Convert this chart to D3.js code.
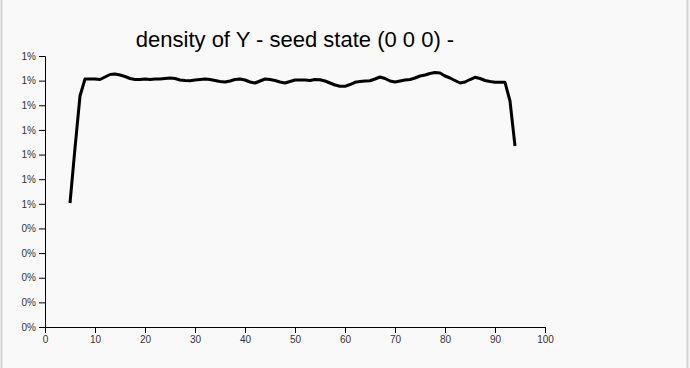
<!DOCTYPE html>
<html>
<head>
<meta charset="utf-8">
<script src="https://cdn.jsdelivr.net/npm/d3@7"></script>
<style>
  html, body { margin: 0; padding: 0; background: #f9f9f9; }
  svg { display: block; }
</style>
</head>
<body>
<svg id="chart"></svg>
<script>
// Title and axis setup
const title = "density of Y - seed state (0 0 0) -";
const xDomain = [0, 100];
const yDomain = [0, 0.011];

// Y values (1..100 grid), x from 5 to 94
const xs = d3.range(5, 95);
const density = [
  0.005033, 0.007266, 0.009376, 0.010066, 0.010066, 0.010066, 0.010046, 0.010148, 0.010249, 0.010269,
  0.010229, 0.010168, 0.010087, 0.010046, 0.010046, 0.010066, 0.010046, 0.010066, 0.010066, 0.010087,
  0.010107, 0.010087, 0.010026, 0.010006, 0.009997, 0.010026, 0.010046, 0.010066, 0.010046, 0.010006,
  0.009965, 0.009945, 0.009985, 0.010046, 0.010066, 0.010026, 0.009945, 0.009904, 0.009985, 0.010066,
  0.010046, 0.010006, 0.009945, 0.009904, 0.009965, 0.010026, 0.010026, 0.010026, 0.010006, 0.010046,
  0.010038, 0.009985, 0.009904, 0.009823, 0.009770, 0.009770, 0.009843, 0.009932, 0.009965, 0.009985,
  0.009997, 0.010066, 0.010148, 0.010087, 0.009985, 0.009945, 0.009985, 0.010026, 0.010046, 0.010107,
  0.010188, 0.010229, 0.010290, 0.010330, 0.010310, 0.010188, 0.010107, 0.010006, 0.009904, 0.009945,
  0.010046, 0.010135, 0.010087, 0.010006, 0.009965, 0.009932, 0.009932, 0.009932, 0.009173, 0.007347
];

const W = 690, H = 368;
const margin = { top: 56, right: 145, bottom: 41, left: 45 };
const width = W - margin.left - margin.right;
const height = H - margin.top - margin.bottom;

const svg = d3.select("#chart")
  .attr("width", W)
  .attr("height", H)
  .style("font-family", "Arial, 'Liberation Sans', sans-serif");

// thin frame lines at the sides
svg.append("line").attr("x1", 1.5).attr("x2", 1.5).attr("y1", 0).attr("y2", H)
  .style("stroke", "#d4d4d4").style("stroke-width", 2);
svg.append("line").attr("x1", 687.5).attr("x2", 687.5).attr("y1", 0).attr("y2", H)
  .style("stroke", "#d4d4d4").style("stroke-width", 2);

const g = svg.append("g")
  .attr("transform", `translate(${margin.left},${margin.top})`);

const xScale = d3.scaleLinear().domain(xDomain).range([0, width]);
const yScale = d3.scaleLinear().domain(yDomain).range([height, 0]);

g.append("g")
  .attr("transform", `translate(0,${height})`)
  .call(d3.axisBottom(xScale).ticks(10))
  .call(a => a.selectAll("text").style("font-family", "Arial, 'Liberation Sans', sans-serif").attr("fill", "#333"));

g.append("g")
  .call(d3.axisLeft(yScale).ticks(10).tickFormat(d3.format(".0%")))
  .call(a => a.selectAll("text").style("font-family", "Arial, 'Liberation Sans', sans-serif").attr("fill", "#333"));

const line = d3.line()
  .x(d => xScale(d[0]))
  .y(d => yScale(d[1]));

g.append("path")
  .datum(xs.map((x, i) => [x, density[i]]))
  .attr("d", line)
  .attr("fill", "none")
  .attr("stroke", "black")
  .attr("stroke-width", 3)
  .attr("stroke-linejoin", "round");

svg.append("text")
  .attr("x", margin.left + width / 2)
  .attr("y", 47)
  .attr("text-anchor", "middle")
  .style("font-size", "22px")
  .text(title);
</script>
</body>
</html>
